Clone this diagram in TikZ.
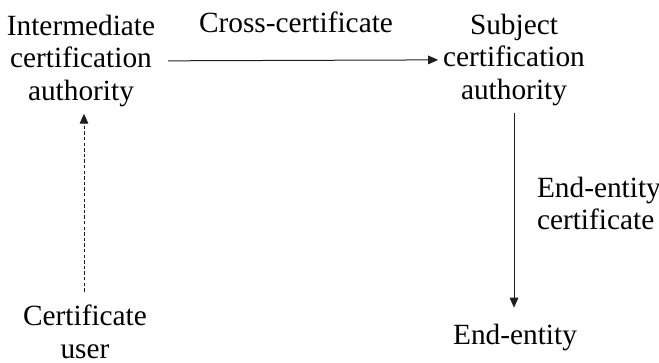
\documentclass[tikz,border=0pt]{standalone}
\usepackage{fontspec}
\setmainfont{Liberation Serif}
\usetikzlibrary{arrows.meta}

\tikzset{
  label/.style={inner sep=0pt, outer sep=0pt, align=center, font=\fontsize{22}{24.4}\selectfont},
  link/.style={color={rgb, 255:red, 30; green, 30; blue, 30}, line width=0.75pt, -{Triangle[length=7.5pt,width=6.5pt]}},
}

\begin{document}
\begin{tikzpicture}[x=0.75pt,y=0.75pt,yscale=-1,xscale=1]
\useasboundingbox (0,0) rectangle (659,363);

% Text Node
\node (inter) [label, anchor=north] at (81,15) {Intermediate\\certification\\authority};
% Text Node
\node (cross) [label, anchor=base] at (296,33) {Cross-certificate};
% Text Node
\node (subj) [label, anchor=north] at (514,14) {Subject\\certification\\authority};
% Text Node
\node (eecert) [label, anchor=north west, align=left] at (537,177) {End-entity\\certificate};
% Text Node
\node (ee) [label, anchor=base] at (515,344) {End-entity};
% Text Node
\node (user) [label, anchor=north] at (85,305) {Certificate\\user};

%Straight Lines
\draw [link, shorten <=9.75pt, shorten >=3.75pt] (inter.east) -- (subj.west);
%Straight Lines
\draw [link, shorten <=5.25pt, shorten >=12pt] (subj.south) -- (subj.south |- ee.north);
%Straight Lines
\draw [link, dash pattern={on 2.6pt off 1.6pt}, shorten <=10pt, shorten >=5.25pt] (user.north -| 84,0) -- (inter.south -| 84,0);

\end{tikzpicture}
\end{document}
